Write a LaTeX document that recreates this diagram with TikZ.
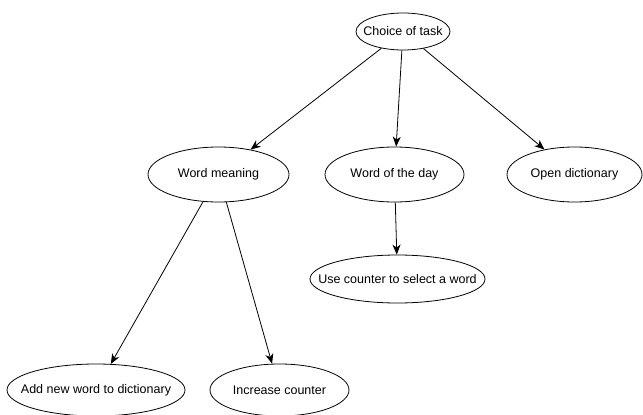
\documentclass[tikz,border=0pt]{standalone}
\usepackage{fontspec}
\setmainfont{Liberation Sans}
\usetikzlibrary{shapes.geometric,arrows.meta}
\begin{document}
\begin{tikzpicture}[x=1pt,y=-1pt,
  task/.style={draw, ellipse, line width=0.8pt, inner sep=0pt, font=\fontsize{12.5}{14}\selectfont},
  link/.style={draw, line width=0.8pt, -{Stealth[length=10pt,width=8pt,inset=3pt]}}]
\useasboundingbox (0,0) rectangle (643,415);
\newcommand{\lbl}[1]{\makebox[0pt]{#1}}
\node[task, minimum width=94pt, minimum height=37pt] (choice) at (403,31.5) {\lbl{Choice of task}};
\node[task, minimum width=141pt, minimum height=55pt] (meaning) at (218.5,174.5) {\lbl{Word meaning}};
\node[task, minimum width=139pt, minimum height=55pt] (day) at (394.5,174.5) {\lbl{Word of the day}};
\node[task, minimum width=135pt, minimum height=55pt] (open) at (574.5,174.5) {\lbl{Open dictionary}};
\node[task, minimum width=175pt, minimum height=48pt] (use) at (397.5,279) {\lbl{Use counter to select a word}};
\node[task, minimum width=178pt, minimum height=52pt] (add) at (96,390) {\lbl{Add new word to dictionary}};
\node[task, minimum width=139pt, minimum height=52pt] (inc) at (279.5,390) {\lbl{Increase counter}};
\draw[link] (choice) -- (meaning);
\draw[link] (choice) -- (day);
\draw[link] (choice) -- (open);
\draw[link] (day) -- (use);
\draw[link] (meaning) -- (add);
\draw[link] (meaning) -- (inc);
\end{tikzpicture}
\end{document}
